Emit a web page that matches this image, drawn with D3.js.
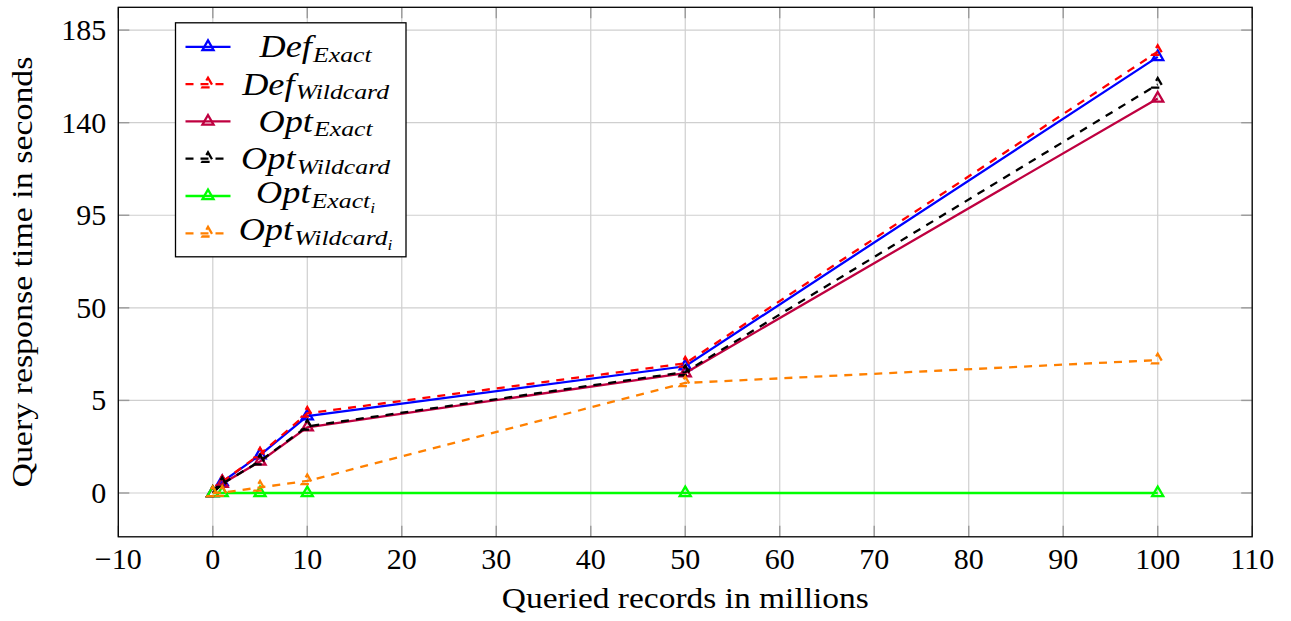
<!DOCTYPE html>
<html>
<head>
<meta charset="utf-8">
<script src="https://cdn.jsdelivr.net/npm/d3@7"></script>
</head>
<body style="margin:0">
<svg id="s" width="1291" height="621"></svg>
<script>
// Queried records (millions) and response times (seconds)
const records       = [0, 1, 5, 10, 50, 100];
const defExact      = [0, 0.6, 2.05, 4.15, 21.6, 172.0];
const defWildcard   = [0, 0.6, 2.1, 4.3, 23.0, 174.5];
const optExact      = [0, 0.5, 1.7, 3.55, 18.3, 151.8];
const optWildcard   = [0, 0.5, 1.72, 3.6, 18.8, 158.6];
const optExactI     = [0, 0, 0, 0, 0, 0];
const optWildcardI  = [0, 0.02, 0.3, 0.65, 13.5, 24.6];

// Axis ticks
const xTicks = [-10, 0, 10, 20, 30, 40, 50, 60, 70, 80, 90, 100, 110];
const yTicks = [0, 5, 50, 95, 140, 185];

// Series names, split into base and subscripts
const seriesNames = [
  ["Def", "Exact", ""],
  ["Def", "Wildcard", ""],
  ["Opt", "Exact", ""],
  ["Opt", "Wildcard", ""],
  ["Opt", "Exact", "i"],
  ["Opt", "Wildcard", "i"]
];
const seriesValues = [defExact, defWildcard, optExact, optWildcard, optExactI, optWildcardI];
const seriesColors = ["#0000ff", "#ff0000", "#bf0040", "#000000", "#00ff00", "#ff8000"];
const seriesDashed = [false, true, false, true, false, true];

const FONT = "Liberation Serif";
const svg = d3.select("#s");
const plot = { left: 118.3, right: 1252.2, top: 7.3, bottom: 536.8 };

const x = d3.scaleLinear().domain([-10, 110]).range([plot.left, plot.right]);

// The y axis places its labelled ticks at equal spacing (piecewise linear scale)
const yZero = plot.bottom - 43.8;
const yTopTick = plot.top + 22.8;
const yStep = (yZero - yTopTick) / (yTicks.length - 1);
const y = d3.scaleLinear()
  .domain(yTicks)
  .range(yTicks.map((_, i) => yZero - i * yStep));

const gridColor = "#cfcfcf";
const tickColor = "#9a9a9a";
const tickLen = 11;

// Grid
const grid = svg.append("g");
grid.selectAll("line.gx").data(xTicks).join("line")
  .attr("x1", d => x(d)).attr("x2", d => x(d))
  .attr("y1", plot.top).attr("y2", plot.bottom)
  .attr("stroke", gridColor).attr("stroke-width", 1.2);
grid.selectAll("line.gy").data(yTicks).join("line")
  .attr("x1", plot.left).attr("x2", plot.right)
  .attr("y1", d => y(d)).attr("y2", d => y(d))
  .attr("stroke", gridColor).attr("stroke-width", 1.2);

// Tick marks on all four sides, pointing inward
const ticks = svg.append("g").attr("stroke", tickColor).attr("stroke-width", 1.4);
xTicks.forEach(t => {
  ticks.append("line").attr("x1", x(t)).attr("x2", x(t)).attr("y1", plot.bottom).attr("y2", plot.bottom - tickLen);
  ticks.append("line").attr("x1", x(t)).attr("x2", x(t)).attr("y1", plot.top).attr("y2", plot.top + tickLen);
});
yTicks.forEach(t => {
  ticks.append("line").attr("x1", plot.left).attr("x2", plot.left + tickLen).attr("y1", y(t)).attr("y2", y(t));
  ticks.append("line").attr("x1", plot.right).attr("x2", plot.right - tickLen).attr("y1", y(t)).attr("y2", y(t));
});

// X tick labels, centred by measuring each label
svg.append("g").selectAll("text").data(xTicks).join("text")
  .attr("font-family", FONT).attr("font-size", 30)
  .attr("y", 569)
  .text(d => d < 0 ? "\u2212" + Math.abs(d) : String(d))
  .attr("x", function (d) { return x(d) - this.getComputedTextLength() / 2; });

// Y tick labels, right-aligned
svg.append("g").selectAll("text").data(yTicks).join("text")
  .attr("font-family", FONT).attr("font-size", 30)
  .attr("y", d => y(d) + 10)
  .text(d => String(d))
  .attr("x", function () { return plot.left - 12 - this.getComputedTextLength(); });

// Axis titles (slightly widened letterforms)
svg.append("text")
  .attr("font-family", FONT).attr("font-size", 30)
  .attr("transform", `translate(${(plot.left + plot.right) / 2},608) scale(1.116,1)`)
  .attr("text-anchor", "middle")
  .text("Queried records in millions");
svg.append("text")
  .attr("font-family", FONT).attr("font-size", 30)
  .attr("transform", `translate(32,${(plot.top + plot.bottom) / 2}) rotate(-90) scale(1.13,1)`)
  .attr("text-anchor", "middle")
  .text("Query response time in seconds");

// Series
const clipId = "plot-clip";
svg.append("clipPath").attr("id", clipId).append("rect")
  .attr("x", plot.left).attr("y", plot.top)
  .attr("width", plot.right - plot.left).attr("height", plot.bottom - plot.top);

const line = d3.line().x(d => x(d[0])).y(d => y(d[1]));
const markerR = 6.4;
const tri = d3.symbol().type(d3.symbolTriangle).size(Math.pow(markerR / 2, 2) * 3 * Math.sqrt(3));
const dash = "8,7";
const lineW = 2.3;

seriesValues.forEach((vals, si) => {
  const pts = records.map((r, i) => [r, vals[i]]);
  const g = svg.append("g");
  g.append("path").datum(pts)
    .attr("d", line).attr("fill", "none")
    .attr("clip-path", `url(#${clipId})`)
    .attr("stroke", seriesColors[si]).attr("stroke-width", lineW)
    .attr("stroke-dasharray", seriesDashed[si] ? dash : null);
  g.selectAll("path.m").data(pts).join("path")
    .attr("class", "m")
    .attr("transform", d => `translate(${x(d[0])},${y(d[1])})`)
    .attr("d", tri).attr("fill", "none")
    .attr("stroke", seriesColors[si]).attr("stroke-width", lineW)
    .attr("stroke-dasharray", seriesDashed[si] ? dash : null);
});

// Frame
svg.append("rect")
  .attr("x", plot.left).attr("y", plot.top)
  .attr("width", plot.right - plot.left).attr("height", plot.bottom - plot.top)
  .attr("fill", "none").attr("stroke", "#000").attr("stroke-width", 1.3);

// Legend
const lg = svg.append("g");
const lgBox = { x: 175.5, y: 22.8, w: 230.5, h: 234 };
lg.append("rect")
  .attr("x", lgBox.x).attr("y", lgBox.y).attr("width", lgBox.w).attr("height", lgBox.h)
  .attr("fill", "#fff").attr("stroke", "#000").attr("stroke-width", 1.3);
const rowStep = 37.3;
const rowY0 = lgBox.y + 24;
const textCx = 315;
const textWiden = 1.17;
seriesNames.forEach((nm, si) => {
  const ry = rowY0 + si * rowStep;
  lg.append("line")
    .attr("x1", lgBox.x + 10).attr("x2", lgBox.x + 55)
    .attr("y1", ry).attr("y2", ry)
    .attr("stroke", seriesColors[si]).attr("stroke-width", lineW)
    .attr("stroke-dasharray", seriesDashed[si] ? dash : null);
  lg.append("path")
    .attr("transform", `translate(${lgBox.x + 32.5},${ry})`)
    .attr("d", tri).attr("fill", "none")
    .attr("stroke", seriesColors[si]).attr("stroke-width", lineW)
    .attr("stroke-dasharray", seriesDashed[si] ? dash : null);
  const t = lg.append("text")
    .attr("font-family", FONT)
    .attr("font-style", "italic")
    .attr("transform", `translate(${textCx},${ry + (nm[2] ? 7 : 10.5)}) scale(${textWiden},1)`);
  t.append("tspan").attr("font-size", 31).text(nm[0]);
  t.append("tspan").attr("font-size", 22).attr("dx", 1).attr("dy", 4.5).text(nm[1]);
  if (nm[2]) t.append("tspan").attr("font-size", 15).attr("dy", 5).text(nm[2]);
  t.attr("x", -t.node().getComputedTextLength() / 2);
});
</script>
</body>
</html>
